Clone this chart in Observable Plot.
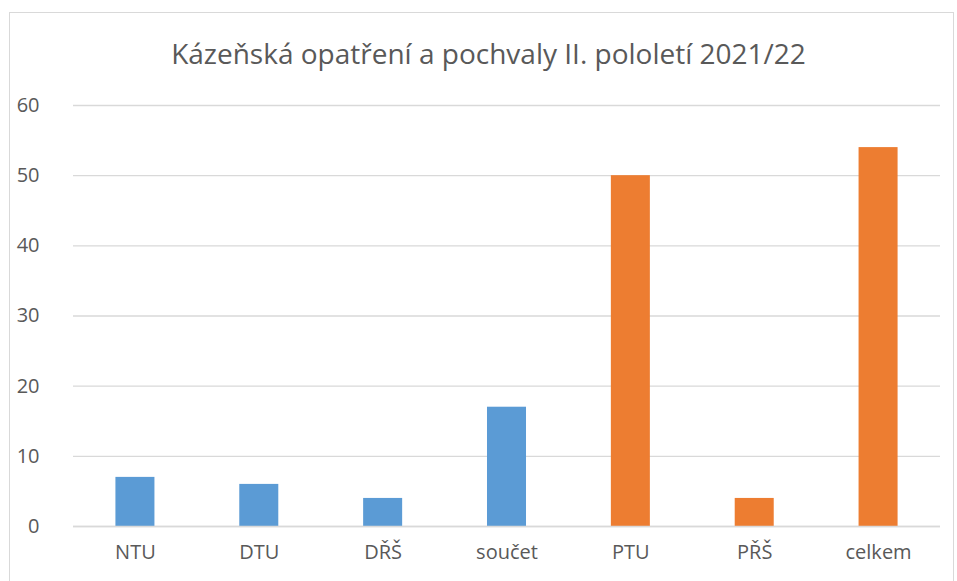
<!DOCTYPE html>
<html><head><meta charset="utf-8">
<script src="https://cdn.jsdelivr.net/npm/d3@7"></script>
<script src="https://cdn.jsdelivr.net/npm/@observablehq/plot@0.6"></script>
<style>
body{margin:0;background:#fff;}
#wrap{position:relative;width:957px;height:581px;overflow:hidden;font-family:"Open Sans",sans-serif;}
#border{position:absolute;left:9px;top:12px;width:945px;height:600px;border:1px solid #d9d9d9;box-sizing:border-box;}
#title{position:absolute;left:0;top:33px;width:977px;text-align:center;font-size:28px;line-height:40px;color:#595959;}
#chart{position:absolute;left:0;top:0;}
</style></head><body>
<div id="wrap"><div id="border"></div><div id="chart"></div><div id="title">Kázeňská opatření a pochvaly II. pololetí 2021/22</div></div>
<script>
const categories = ["NTU","DTU","DŘŠ","součet","PTU","PŘŠ","celkem"];
const values = [7,6,4,17,50,4,54];
const groups = ["kázeňská","kázeňská","kázeňská","kázeňská","pochvaly","pochvaly","pochvaly"];
const yTicks = [0,10,20,30,40,50,60];
const data = categories.map((c,i)=>({cat:c,value:values[i],group:groups[i]}));
const chart = Plot.plot({
  width:957, height:581,
  marginLeft:73, marginRight:17, marginTop:105, marginBottom:55,
  style:{fontFamily:"'Open Sans',sans-serif",fontSize:"20px",color:"#595959",background:"transparent"},
  x:{domain:categories, paddingInner:0.685, paddingOuter:0.3425, round:false, label:null},
  y:{domain:[0,60], label:null},
  color:{domain:["kázeňská","pochvaly"], range:["#5b9bd5","#ed7d31"]},
  marks:[
    Plot.gridY(yTicks,{stroke:"#d9d9d9",strokeOpacity:1,strokeWidth:1.3}),
    Plot.barY(data,{x:"cat",y:"value",fill:"group"}),
    Plot.ruleY([0],{stroke:"#d9d9d9",strokeWidth:1.3}),
    Plot.axisX({tickSize:0,tickPadding:18,fontSize:20}),
    Plot.axisY(yTicks,{tickSize:0,tickPadding:34,fontSize:20})
  ]
});
document.getElementById("chart").appendChild(chart);
</script></body></html>
